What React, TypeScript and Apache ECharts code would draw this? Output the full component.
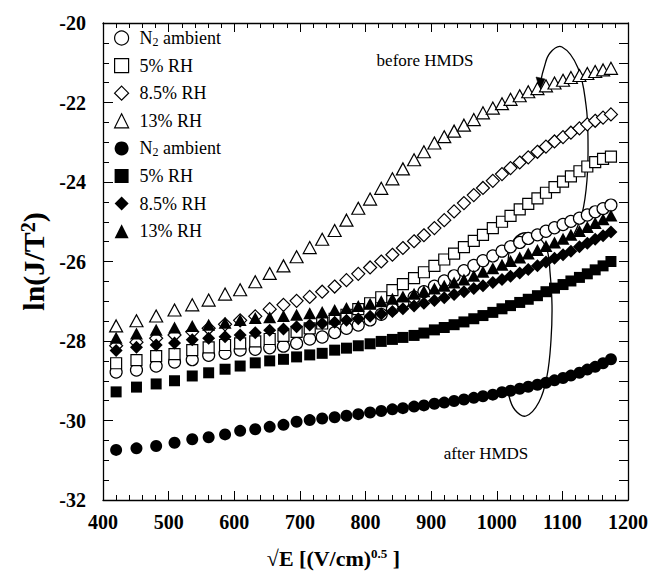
import React, { useEffect, useRef } from "react";
import * as echarts from "echarts";

const xValues = [
  420, 451, 481, 509, 536, 561, 586, 609, 632, 654, 675,
  695, 715, 734, 753, 771, 789, 807, 824, 841, 857, 874,
  889, 905, 920, 935, 950, 965, 979, 994, 1008, 1021, 1035,
  1048, 1062, 1075, 1088, 1101, 1113, 1126, 1138, 1150, 1162, 1174,
];

// before HMDS (open symbols)
const n2Before = [
  -28.78, -28.73, -28.63, -28.53, -28.47, -28.36, -28.31, -28.23, -28.21, -28.17, -28.13,
  -28.06, -27.95, -27.9, -27.79, -27.68, -27.6, -27.47, -27.33, -27.19, -27.04, -26.9,
  -26.76, -26.62, -26.49, -26.36, -26.23, -26.1, -25.98, -25.86, -25.74, -25.63, -25.52,
  -25.42, -25.33, -25.24, -25.15, -25.07, -24.99, -24.91, -24.83, -24.75, -24.67, -24.58,
];
const rh5Before = [
  -28.56, -28.48, -28.38, -28.33, -28.23, -28.16, -28.1, -28.06, -28.01, -27.95, -27.87,
  -27.77, -27.68, -27.56, -27.44, -27.34, -27.2, -27.05, -26.9, -26.72, -26.57, -26.42,
  -26.27, -26.11, -25.95, -25.8, -25.64, -25.48, -25.33, -25.16, -25.0, -24.85, -24.69,
  -24.55, -24.41, -24.27, -24.13, -23.99, -23.86, -23.73, -23.61, -23.5, -23.42, -23.36,
];
const rh85Before = [
  -28.12, -28.03, -27.93, -27.85, -27.77, -27.68, -27.58, -27.48, -27.38, -27.2, -27.09,
  -26.99, -26.89, -26.76, -26.63, -26.47, -26.31, -26.15, -26.0, -25.83, -25.66, -25.49,
  -25.34, -25.16, -24.96, -24.74, -24.53, -24.33, -24.15, -23.97, -23.8, -23.65, -23.51,
  -23.38, -23.24, -23.11, -22.98, -22.87, -22.76, -22.65, -22.55, -22.46, -22.38, -22.3,
];
const rh13Before = [
  -27.62, -27.49, -27.37, -27.22, -27.09, -26.97, -26.82, -26.71, -26.51, -26.3, -26.11,
  -25.88, -25.65, -25.44, -25.22, -24.96, -24.66, -24.43, -24.16, -23.92, -23.67, -23.44,
  -23.24, -23.02, -22.86, -22.72, -22.57, -22.43, -22.26, -22.14, -22.03, -21.92, -21.83,
  -21.73, -21.65, -21.58, -21.51, -21.44, -21.37, -21.32, -21.27, -21.22, -21.18, -21.14,
];

// after HMDS (filled symbols)
const n2After = [
  -30.74, -30.7, -30.64, -30.56, -30.47, -30.42, -30.35, -30.26, -30.22, -30.16, -30.11,
  -30.03, -29.99, -29.95, -29.92, -29.88, -29.84, -29.8, -29.76, -29.72, -29.69, -29.65,
  -29.62, -29.58, -29.55, -29.51, -29.47, -29.43, -29.39, -29.35, -29.29, -29.25, -29.2,
  -29.15, -29.1, -29.05, -28.99, -28.93, -28.87, -28.8, -28.72, -28.65, -28.56, -28.46,
];
const rh5After = [
  -29.28, -29.16, -29.08, -29.0, -28.88, -28.8, -28.71, -28.63, -28.55, -28.5, -28.46,
  -28.4, -28.35, -28.31, -28.23, -28.18, -28.12, -28.07, -28.01, -27.96, -27.91, -27.86,
  -27.8, -27.72, -27.66, -27.59, -27.52, -27.44, -27.36, -27.28, -27.19, -27.11, -27.03,
  -26.95, -26.86, -26.76, -26.67, -26.58, -26.49, -26.4, -26.31, -26.21, -26.11, -26.0,
];
const rh85After = [
  -28.24, -28.16, -28.1, -28.05, -27.97, -27.93, -27.89, -27.85, -27.79, -27.73, -27.7,
  -27.64, -27.6, -27.56, -27.53, -27.48, -27.44, -27.38, -27.32, -27.26, -27.19, -27.12,
  -27.05, -26.98, -26.91, -26.83, -26.76, -26.68, -26.61, -26.53, -26.45, -26.37, -26.29,
  -26.2, -26.11, -26.01, -25.92, -25.83, -25.74, -25.63, -25.54, -25.44, -25.35, -25.26,
];
const rh13After = [
  -27.92, -27.81, -27.72, -27.66, -27.62, -27.59, -27.54, -27.47, -27.42, -27.4, -27.37,
  -27.34, -27.3, -27.27, -27.22, -27.17, -27.12, -27.06, -27.0, -26.94, -26.88, -26.81,
  -26.75, -26.68, -26.61, -26.53, -26.45, -26.36, -26.26, -26.17, -26.08, -25.99, -25.9,
  -25.8, -25.71, -25.61, -25.52, -25.43, -25.33, -25.23, -25.13, -25.03, -24.94, -24.84,
];

const seriesNames = [
  "N2 ambient (before)", "5% RH (before)", "8.5% RH (before)", "13% RH (before)",
  "N2 ambient (after)", "5% RH (after)", "8.5% RH (after)", "13% RH (after)",
];
const legendLabels = [
  "N{sub|2} ambient", "5% RH", "8.5% RH", "13% RH",
  "N{sub|2} ambient", "5% RH", "8.5% RH", "13% RH",
];
const seriesData = [n2Before, rh5Before, rh85Before, rh13Before, n2After, rh5After, rh85After, rh13After];
const symbols = ["circle", "rect", "diamond", "triangle", "circle", "rect", "diamond", "triangle"];
const symbolSizes: any[] = [12, 11, 13, [13, 12], 12, 11, 13, [13, 12]];

const xMin = 400, xMax = 1200, xStep = 100;
const yMin = -32, yMax = -20, yStep = 2;

export default function App() {
  const ref = useRef<HTMLDivElement>(null);
  useEffect(() => {
    const chart = echarts.init(ref.current!, null, { renderer: "svg" });
    const font = "'Liberation Serif', 'Times New Roman', serif";
    const black = "#000";
    const labelMap: Record<string, string> = {};
    seriesNames.forEach((n, i) => (labelMap[n] = legendLabels[i]));

    const series = seriesNames.map((name, i) => {
      const filled = i >= 4;
      return {
        type: "scatter",
        name,
        data: xValues.map((x, k) => [x, seriesData[i][k]]),
        symbol: symbols[i],
        symbolSize: symbolSizes[i],
        itemStyle: filled
          ? { color: black, borderColor: black, borderWidth: 0, opacity: 1 }
          : { color: "#fff", borderColor: black, borderWidth: 1.2, opacity: 1 },
        emphasis: { disabled: true },
        z: 2 + i,
      };
    });

    const commonTickX = {
      axisLine: { show: true, lineStyle: { color: black, width: 1.3 } },
      axisTick: { show: true, inside: true, length: 9, lineStyle: { color: black, width: 1 } },
      minorTick: { show: true, splitNumber: 5, length: 5, lineStyle: { color: black, width: 1 } },
      splitLine: { show: false },
    };

    chart.setOption({
      animation: false,
      backgroundColor: "#fff",
      textStyle: { fontFamily: font, color: black },
      grid: { left: 103, right: 14, top: 23, bottom: 74, containLabel: false },
      legend: {
        orient: "vertical",
        left: 109,
        top: 23,
        itemWidth: 14,
        itemHeight: 14,
        itemGap: 7.6,
        selectedMode: false,
        data: seriesNames.map((n, i) => ({
          name: n,
          icon: symbols[i],
          itemStyle:
            i >= 4
              ? { color: black, borderWidth: 0 }
              : { color: "#fff", borderColor: black, borderWidth: 1.2 },
        })),
        formatter: (name: string) => labelMap[name],
        textStyle: {
          fontFamily: font,
          fontSize: 18,
          color: black,
          lineHeight: 20,
          padding: [0, 0, 0, 6],
          rich: {
            sub: { fontFamily: font, fontSize: 12, lineHeight: 12, verticalAlign: "bottom", color: black },
          },
        },
      },
      xAxis: [
        {
          type: "value",
          min: xMin,
          max: xMax,
          interval: xStep,
          position: "bottom",
          ...commonTickX,
          axisLabel: {
            color: black,
            fontFamily: font,
            fontWeight: "bold",
            fontSize: 20,
            margin: 12,
            formatter: (v: number) => String(v),
          },
          name: "√E [(V/cm){sup|0.5} ]",
          nameLocation: "middle",
          nameGap: 47,
          nameTextStyle: {
            fontFamily: font,
            fontWeight: "bold",
            fontSize: 22,
            color: black,
            padding: [0, 64, 0, 0],
            rich: {
              sup: { fontFamily: font, fontWeight: "bold", fontSize: 13, lineHeight: 12, verticalAlign: "top", color: black },
            },
          },
        },
        {
          type: "value",
          min: xMin,
          max: xMax,
          interval: xStep,
          position: "top",
          ...commonTickX,
          axisLabel: { show: false },
        },
      ],
      yAxis: [
        {
          type: "value",
          min: yMin,
          max: yMax,
          interval: yStep,
          position: "left",
          axisLine: { show: true, lineStyle: { color: black, width: 1.3 } },
          axisTick: { show: true, inside: true, length: 10, lineStyle: { color: black, width: 1 } },
          minorTick: { show: true, splitNumber: 4, length: 6, lineStyle: { color: black, width: 1 } },
          splitLine: { show: false },
          axisLabel: { color: black, fontFamily: font, fontWeight: "bold", fontSize: 20, margin: 17 },
          name: "ln(J/T{sup|2})",
          nameLocation: "middle",
          nameRotate: 90,
          nameGap: 52,
          nameTextStyle: {
            fontFamily: font,
            fontWeight: "bold",
            fontSize: 30,
            color: black,
            rich: {
              sup: { fontFamily: font, fontWeight: "bold", fontSize: 20, lineHeight: 14, verticalAlign: "top", color: black },
            },
          },
        },
        {
          type: "value",
          min: yMin,
          max: yMax,
          interval: 0.5,
          position: "right",
          axisLine: { show: true, lineStyle: { color: black, width: 1.3 } },
          axisTick: { show: true, inside: true, length: 9, lineStyle: { color: black, width: 1 } },
          splitLine: { show: false },
          axisLabel: { show: false },
        },
      ],
      graphic: [
        {
          type: "text",
          x: 425,
          y: 60,
          style: { text: "before HMDS", font: `17px ${font}`, fill: black, align: "center", verticalAlign: "middle" },
          z: 50,
        },
        {
          type: "text",
          x: 486,
          y: 453,
          style: { text: "after HMDS", font: `17px ${font}`, fill: black, align: "center", verticalAlign: "middle" },
          z: 50,
        },
        {
          type: "polyline",
          shape: {
            points: [
              [573, 236], [582, 214], [587, 180], [588, 140], [586, 105], [578, 68],
              [562, 47], [550, 53], [544, 68], [541, 80],
            ],
            smooth: 0.4,
          },
          style: { stroke: black, lineWidth: 1.3, fill: "none" },
          z: 1,
        },
        {
          type: "polygon",
          shape: { points: [[536, 77], [545, 79], [540, 90]] },
          style: { fill: black, stroke: black, lineWidth: 0.5 },
          z: 1,
        },
        {
          type: "polyline",
          shape: {
            points: [
              [508, 262], [512, 243], [523, 233], [538, 237], [547, 250], [550, 272],
              [552, 305], [551, 340], [547, 376], [539, 402], [526, 416], [515, 410], [509, 396],
            ],
            smooth: 0.4,
          },
          style: { stroke: black, lineWidth: 1.3, fill: "none" },
          z: 1,
        },
      ],
      series,
    });
    return () => chart.dispose();
  }, []);
  return (
    <div
      ref={ref}
      style={{ position: "fixed", left: 0, top: 0, width: 651, height: 574, background: "#fff" }}
    />
  );
}
